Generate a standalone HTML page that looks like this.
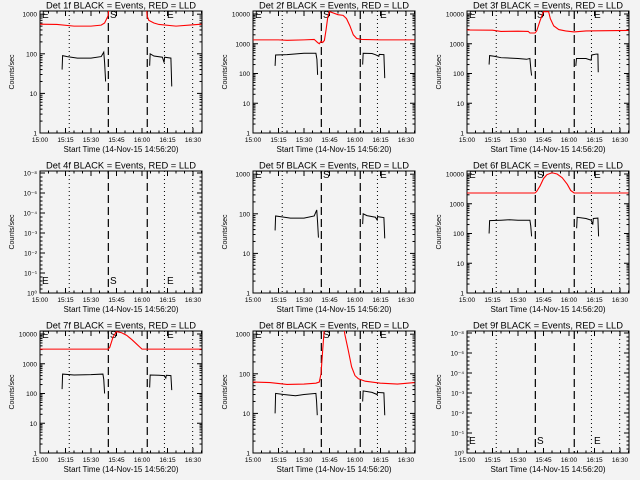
<!DOCTYPE html>
<html><head><meta charset="utf-8"><style>
html,body{margin:0;padding:0;background:#f3f3f3;}
svg{display:block;font-family:"Liberation Sans",sans-serif;}
</style></head><body>
<svg id="c" width="640" height="480" viewBox="0 0 640 480"></svg>
<script>
// ---- data (time in minutes after 15:00, value counts/sec) ----
const detNames = ["1f","2f","3f","4f","5f","6f","7f","8f","9f"];
const scaleKinds = ["A","B","B","Z","A","B","B","A","Z"];
const red1 = [[0,560],[10,550],[20,500],[30,500],[36,530],[38,600],[40,900],[41,2000],[62.5,2000],[63,900],[64,700],[67,600],[70,550],[80,500],[90,540],[95,560]];
const blk1a = [[13,40],[13.3,90],[16,85],[22,78],[30,78],[36,85],[37.5,110],[38,60],[38.6,20]];
const blk1b = [[64.5,50],[64.8,100],[67,88],[72,82],[73,60],[73.3,82],[77,78],[77.5,15]];
const red2 = [[0,1350],[15,1350],[20,1300],[30,1350],[36,1400],[38,1100],[39,1000],[40,1200],[41,1100],[42,1300],[43,3000],[44,8000],[45,12000],[50,9500],[53,9000],[55,7000],[57,4000],[59,2000],[61,1500],[64,1400],[75,1350],[95,1350]];
const blk2a = [[13,180],[13.3,420],[20,430],[30,480],[37,480],[37.6,300],[38,90]];
const blk2b = [[64.5,200],[64.8,480],[70,470],[72,430],[74,380],[74.3,440],[77,430],[77.5,70]];
const red3 = [[0,2900],[15,2850],[20,2600],[30,2650],[36,2600],[37,2300],[40,2300],[41,2700],[43,6000],[45,12000],[48,12000],[49,7000],[51,4000],[54,3000],[58,2700],[63,2500],[70,2700],[95,2800]];
const blk3a = [[13,200],[13.3,400],[16,380],[20,340],[30,320],[35,300],[37,320],[37.6,130],[38,85]];
const blk3b = [[64,180],[64.4,320],[70,320],[73,280],[73.4,420],[76,450],[77,450],[77.2,110]];
const red5 = [];
const blk5a = [[13,38],[13.3,88],[16,85],[22,78],[30,78],[36,88],[37.5,125],[38,60],[38.5,25]];
const blk5b = [[64.5,55],[64.8,100],[67,90],[72,82],[73,70],[73.3,85],[77,80],[77.5,24]];
const red6 = [[0,2300],[20,2300],[40,2300],[41,2600],[43,4000],[45,7000],[47,9500],[50,11000],[53,10000],[56,7500],[59,4500],[61,2800],[63,2300],[80,2300],[95,2300]];
const blk6a = [[13,100],[13.3,270],[20,280],[25,290],[30,280],[37,280],[37.5,180],[38,80]];
const blk6b = [[64.5,150],[64.8,350],[70,320],[73,280],[74,200],[74.3,320],[77,330],[77.4,80]];
const red7 = [[0,3100],[20,3100],[35,3100],[40,3100],[41,3500],[43,8000],[45,12000],[48,11000],[51,9000],[54,6500],[57,4500],[60,3100],[70,3100],[95,3100]];
const blk7a = [[13,140],[13.3,450],[20,420],[30,430],[37,450],[37.5,300],[38,100]];
const blk7b = [[64.5,160],[64.8,420],[70,410],[73,400],[74,330],[74.3,410],[77,400],[77.5,130]];
const red8 = [[0,62],[10,60],[20,54],[30,55],[37,58],[39,62],[40,100],[41,400],[42,1500],[53.5,1500],[54,1000],[56,400],[58,150],[60,90],[62,75],[66,65],[75,58],[85,55],[95,60]];
const blk8a = [[13,10],[13.3,32],[18,30],[25,28],[30,30],[37,32],[37.4,20],[37.8,9]];
const blk8b = [[64.5,20],[64.8,37],[70,34],[73,30],[73.3,34],[77,33],[77.5,9]];
const redAll = [red1,red2,red3,[],red5,red6,red7,red8,[]];
const blkAll = [[blk1a,blk1b],[blk2a,blk2b],[blk3a,blk3b],[],[blk5a,blk5b],[blk6a,blk6b],[blk7a,blk7b],[blk8a,blk8b],[]];
const xTickLabels = ["15:00","15:15","15:30","15:45","16:00","16:15","16:30"];
const xTickTimes = [0,15,30,45,60,75,90];
const dottedTimes = [17.2,73.2,89.8];
const dashedTimes = [40.2,63.1];
const labelsA = ["1","10","100","1000"];
const labelsB = ["1","10","100","1000","10000"];
const labelsZ = ["10⁰","10⁻¹","10⁻²","10⁻³","10⁻⁴","10⁻⁶","10⁻⁸"];

const NS="http://www.w3.org/2000/svg";
const svg=document.getElementById('c');
function mk(tag,attrs,parent){const e=document.createElementNS(NS,tag);for(const k in attrs)e.setAttribute(k,attrs[k]);(parent||svg).appendChild(e);return e;}
const L=40,R=202,T=11,B=133;
function xs(t){return L+t*1.7;}
for(let p=0;p<9;p++){
  const ox=[0,213,427][p%3], oy=[0,160,320][Math.floor(p/3)];
  const g=mk('g',{transform:`translate(${ox},${oy})`});
  
  
  const kind=scaleKinds[p];
  const dec = kind==="A"?39.6:(kind==="B"?29.75:20);
  const ys=v=>B-Math.log10(v)*dec;
  const clipId='cl'+p;
  const cp=mk('clipPath',{id:clipId},g);mk('rect',{x:L,y:T,width:R-L,height:B-T},cp);
  const ti=mk('text',{x:121,y:8.5,'text-anchor':'middle','font-size':'9','textLength':150,'lengthAdjust':'spacingAndGlyphs',fill:'#000'},g);
  ti.textContent='Det '+detNames[p]+' BLACK = Events, RED = LLD';
  
  
  const yt=mk('text',{x:0,y:0,transform:'translate(14,72) rotate(-90)','text-anchor':'middle','font-size':'7',fill:'#000'},g);
  yt.textContent='Counts/sec';
  
  
  const xt=mk('text',{x:121,y:152,'text-anchor':'middle','font-size':'8','textLength':115,'lengthAdjust':'spacingAndGlyphs',fill:'#000'},g);
  xt.textContent='Start Time (14-Nov-15 14:56:20)';
  
  
  const fr=mk('rect',{x:L,y:T,width:R-L,height:B-T,fill:'none',stroke:'#000','stroke-width':1},g);
  
  
  for(let m=0;m<=95;m+=5){const x=xs(m);const len=(m%15===0)?5:2.5;
    mk('line',{x1:x,x2:x,y1:B,y2:B-len,stroke:'#000'},g);mk('line',{x1:x,x2:x,y1:T,y2:T+len,stroke:'#000'},g);}
  xTickTimes.forEach((t,i)=>{const tl=mk('text',{x:xs(t),y:142,'text-anchor':'middle','font-size':'6.5',fill:'#000'},g);tl.textContent=xTickLabels[i];
    
    });
  const labs= kind==="A"?labelsA:(kind==="B"?labelsB:labelsZ);
  labs.forEach((lb,i)=>{const y=B-i*dec;
    mk('line',{x1:L,x2:L+5,y1:y,y2:y,stroke:'#000'},g);mk('line',{x1:R,x2:R-5,y1:y,y2:y,stroke:'#000'},g);
    const tl=mk('text',{x:37,y:y+2.5,'text-anchor':'end','font-size':'6.5',fill:'#000'},g);tl.textContent=lb;
    
    
    if(kind!=="Z"){for(let k=2;k<10;k++){const yy=y-Math.log10(k)*dec;if(yy<T)break;
      mk('line',{x1:L,x2:L+2.5,y1:yy,y2:yy,stroke:'#000'},g);mk('line',{x1:R,x2:R-2.5,y1:yy,y2:yy,stroke:'#000'},g);}}
    else {for(let k=1;k<5;k++){const yy=y-k*4;if(yy<T)break;
      mk('line',{x1:L,x2:L+2.5,y1:yy,y2:yy,stroke:'#000'},g);mk('line',{x1:R,x2:R-2.5,y1:yy,y2:yy,stroke:'#000'},g);}}
  });
  dottedTimes.forEach(t=>{const l=mk('line',{x1:xs(t),x2:xs(t),y1:T,y2:B,stroke:'#000','stroke-dasharray':'1,3'},g);
    
    });
  dashedTimes.forEach(t=>{const l=mk('line',{x1:xs(t),x2:xs(t),y1:T,y2:B,stroke:'#000','stroke-dasharray':'8,4','stroke-width':1.2},g);
    
    });
  const ly = kind==="Z"?124:18;
  [["E",42],["S",110],["E",167]].forEach(([c,x])=>{const t=mk('text',{x:x,y:ly,'font-size':'10',fill:'#000'},g);t.textContent=c;
    
    });
  const gc=mk('g',{'clip-path':`url(#${clipId})`},g);
  blkAll[p].forEach(seg=>{const pl=mk('polyline',{points:seg.map(d=>xs(d[0])+','+ys(d[1])).join(' '),fill:'none',stroke:'#000','stroke-width':1},gc);
    
    });
  if(redAll[p].length){const pl=mk('polyline',{points:redAll[p].map(d=>xs(d[0])+','+ys(d[1])).join(' '),fill:'none',stroke:'#f00','stroke-width':1.1},gc);
    
    }
}
</script>
</body></html>
